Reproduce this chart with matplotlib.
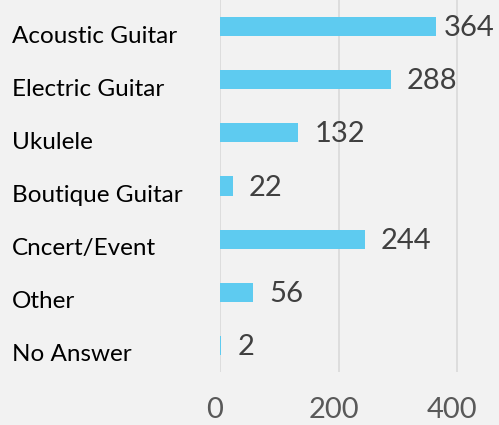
import matplotlib
matplotlib.use("Agg")
import matplotlib.pyplot as plt
import matplotlib.transforms as mtransforms

# Data
categories = ["Acoustic Guitar", "Electric Guitar", "Ukulele", "Boutique Guitar",
              "Cncert/Event", "Other", "No Answer"]
values = [364, 288, 132, 22, 244, 56, 2]
xticks = [0, 200, 400]

plt.rcParams['font.family'] = ['Lato', 'DejaVu Sans']

W, H = 499, 425
fig = plt.figure(figsize=(W / 100, H / 100), dpi=100, facecolor='#f2f2f2')
ax = fig.add_axes([220 / W, (H - 372) / H, 1 - 220 / W, 372 / H])
ax.set_facecolor('#f2f2f2')

ypos = list(range(len(categories)))
ax.barh(ypos, values, height=0.36, color='#5ecbf0', zorder=3)

ax.set_xlim(0, (W - 220) / (118.5 / 200))
ax.set_ylim(len(categories) - 0.5, -0.5)

# grid
ax.set_xticks(xticks)
ax.grid(axis='x', color='#d9d9d9', linewidth=1.2, zorder=0)
for s in ax.spines.values():
    s.set_visible(False)
ax.set_yticks([])
ax.tick_params(axis='x', length=0, pad=18, labelsize=21, labelcolor='#595959')
shift = mtransforms.ScaledTranslation(-5 / 100, 0, fig.dpi_scale_trans)
for lab in ax.get_xticklabels():
    lab.set_transform(lab.get_transform() + shift)

# category labels at the left edge of the figure
trans = mtransforms.blended_transform_factory(fig.transFigure, ax.transData)
for y, name in zip(ypos, categories):
    ax.text(12 / W, y + 0.18, name, transform=trans, ha='left', va='center',
            fontsize=17.5, color='black')

# value labels
fig.canvas.draw()
renderer = fig.canvas.get_renderer()
for y, v in zip(ypos, values):
    t = ax.annotate(str(v), xy=(v, y + 0.03), xytext=(11.5, 0), textcoords='offset points',
                    ha='left', va='center', fontsize=21, color='#404040')
    bb = t.get_window_extent(renderer)
    if bb.x1 > W - 4:
        t.set_position((11.5 - (bb.x1 - (W - 4)) * 0.72, 0))

fig.savefig("out.png", dpi=100, facecolor=fig.get_facecolor())
